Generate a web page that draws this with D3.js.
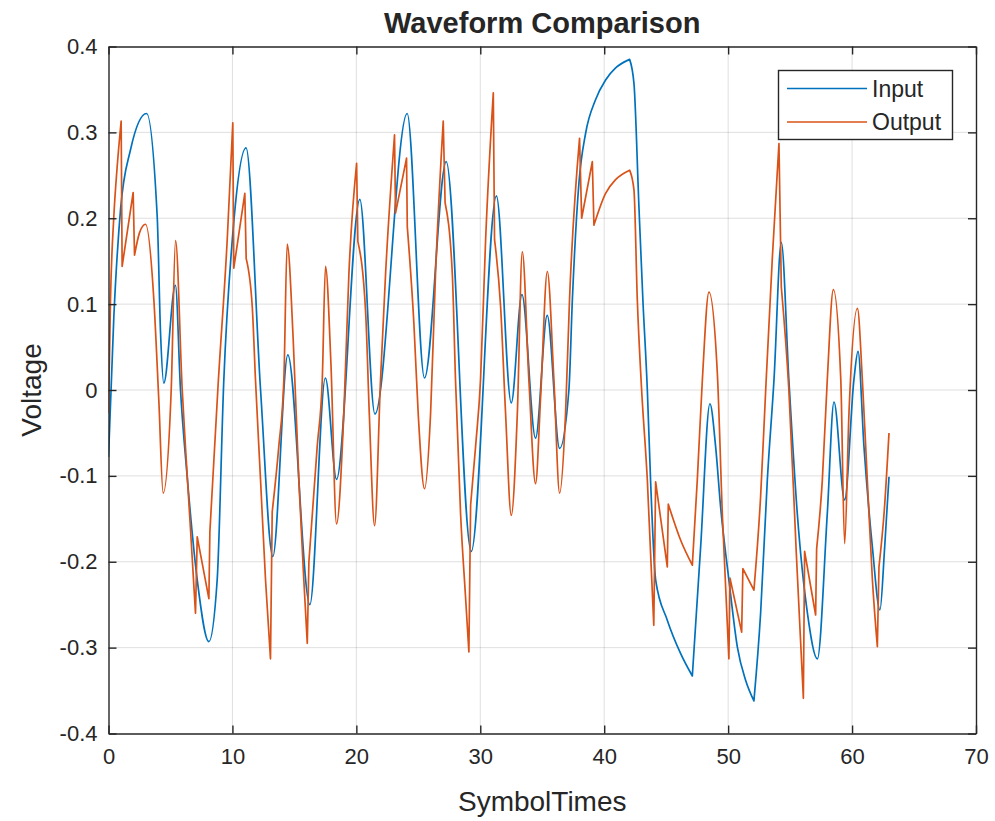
<!DOCTYPE html>
<html>
<head>
<meta charset="utf-8">
<script src="https://cdn.jsdelivr.net/npm/d3@7"></script>
<style>
  body { margin: 0; background: #ffffff; }
  text { font-family: "Liberation Sans", Arial, Helvetica, sans-serif; fill: #262626; }
</style>
</head>
<body>
<svg id="chart" width="995" height="821"></svg>
<script>
// Input waveform: [symbol time, voltage]
const inputWave = [
  [0,-0.078],[0.43,0.085],[0.97,0.21],[1.78,0.28],[3.07,0.322],[3.93,0.202],[4.2,0.066],[4.46,0.008],
  [5.4,0.122],[5.81,0.0],[6.35,-0.101],[7.16,-0.221],[8.1,-0.293],[8.77,-0.221],[9.3,0.01],[10.1,0.194],
  [11.1,0.282],[12.27,0.0],[13.26,-0.194],[14.47,0.041],[16.25,-0.25],[17.5,0.014],[18.4,-0.104],
  [20.28,0.222],[21.5,-0.028],[24.1,0.322],[25.5,0.014],[27.25,0.266],[29.27,-0.188],[31.3,0.226],
  [32.5,-0.015],[33.36,0.111],[34.46,-0.056],[35.4,0.087],[36.4,-0.068],[37.15,0.0],[37.43,0.105],
  [37.96,0.241],[38.5,0.299],[39.3,0.338],[40.11,0.361],[40.92,0.375],[42.05,0.385],[42.4,0.357],
  [42.8,0.214],[43.12,0.105],[43.48,0.0],[43.74,-0.105],[44.15,-0.221],[45.09,-0.268],[46.17,-0.307],
  [47.11,-0.333],[47.78,-0.183],[48.53,-0.016],[48.99,-0.066],[49.39,-0.136],[50.06,-0.221],
  [50.74,-0.299],[51.41,-0.338],[52.08,-0.362],[52.62,-0.26],[53.16,-0.105],[53.7,0.012],[54.29,0.172],
  [54.9,0.012],[55.58,-0.144],[56.4,-0.26],[57.2,-0.313],[58.0,-0.144],[58.54,-0.014],[59.4,-0.128],
  [60.15,0.012],[60.48,0.045],[60.96,-0.066],[61.64,-0.183],[62.25,-0.256],[62.63,-0.183],[62.98,-0.101]
];
// Times where the input trace turns sharply
const inputCorners = [42.05, 47.11, 52.08];

// Output waveform: [symbol time, voltage]
const outputWave = [
  [0,-0.027],[0.16,0.105],[0.43,0.202],[0.7,0.26],[1.02,0.313],[1.1,0.144],[1.99,0.23],[2.1,0.157],
  [2.5,0.183],[2.99,0.193],[3.66,0.105],[4.06,-0.012],[4.41,-0.12],[5.06,0.0],[5.41,0.174],[5.95,0.0],
  [6.21,-0.066],[6.62,-0.163],[7.02,-0.26],[7.16,-0.171],[8.1,-0.243],[8.18,-0.165],[8.84,0.005],
  [9.58,0.175],[10.03,0.311],[10.11,0.142],[11.0,0.229],[11.11,0.153],[11.6,0.097],[11.86,0.012],
  [12.27,-0.105],[12.67,-0.221],[13.07,-0.313],[13.21,-0.142],[13.74,-0.066],[14.15,0.012],[14.42,0.17],
  [14.9,0.06],[15.36,-0.105],[15.76,-0.221],[16.04,-0.295],[16.17,-0.2],[16.84,-0.066],[17.25,0.012],
  [17.51,0.144],[17.95,0.03],[18.4,-0.156],[18.99,-0.027],[19.4,0.136],[20.02,0.264],[20.12,0.173],
  [20.75,0.09],[21.05,-0.03],[21.47,-0.158],[21.95,0.012],[22.36,0.136],[23.08,0.297],[23.16,0.206],
  [24.05,0.27],[24.11,0.19],[24.64,0.078],[25.0,-0.03],[25.5,-0.115],[25.99,-0.027],[26.39,0.136],
  [27.01,0.313],[27.16,0.218],[27.74,0.136],[28.0,0.012],[28.41,-0.144],[28.81,-0.241],[29.08,-0.305],
  [29.22,-0.134],[29.62,-0.066],[30.02,0.012],[30.43,0.175],[31.05,0.346],[31.15,0.175],[31.64,0.097],
  [32.04,-0.027],[32.5,-0.146],[32.99,-0.027],[33.39,0.161],[33.92,0.012],[34.46,-0.109],[34.87,-0.008],
  [35.41,0.138],[35.94,0.012],[36.4,-0.12],[36.88,-0.027],[37.2,0.105],[38.01,0.293],[38.18,0.2],
  [39.04,0.266],[39.17,0.192],[40.11,0.229],[40.92,0.245],[42.05,0.256],[42.4,0.233],[42.67,0.105],
  [43.0,0.005],[43.48,-0.105],[44.0,-0.274],[44.15,-0.107],[45.09,-0.206],[45.17,-0.133],[46.17,-0.175],
  [47.11,-0.204],[47.51,-0.105],[47.92,0.012],[48.45,0.114],[49.13,0.019],[49.53,-0.144],[50.06,-0.313],
  [50.15,-0.219],[51.09,-0.282],[51.19,-0.208],[52.08,-0.233],[52.62,-0.124],[53.03,0.0],[53.57,0.155],
  [54.1,0.287],[54.29,0.12],[54.9,0.0],[55.5,-0.19],[56.07,-0.359],[56.17,-0.188],[57.06,-0.262],
  [57.14,-0.185],[57.6,-0.105],[58.0,0.012],[58.49,0.117],[59.09,0.012],[59.4,-0.179],[59.75,-0.027],
  [60.43,0.095],[60.83,0.012],[61.23,-0.105],[61.64,-0.221],[62.04,-0.299],[62.17,-0.206],[62.6,-0.14],
  [62.98,-0.05]
];
// Times where the output trace turns sharply or steps
const outputCorners = [
  1.02,1.1,1.99,2.1,7.02,7.16,8.1,8.18,10.03,10.11,11.0,11.11,13.07,13.21,16.04,16.17,20.02,20.12,
  23.08,23.16,24.05,24.11,27.01,27.16,29.08,29.22,31.05,31.15,38.01,38.18,39.04,39.17,42.05,44.0,44.15,
  45.09,45.17,47.11,50.06,50.15,51.09,51.19,52.08,54.1,54.29,56.07,56.17,57.06,57.14,62.04,62.17
];

const xTicks = [0, 10, 20, 30, 40, 50, 60, 70];
const yTicks = [-0.4, -0.3, -0.2, -0.1, 0, 0.1, 0.2, 0.3, 0.4];
const seriesNames = ["Input", "Output"];
const seriesColors = ["#0072BD", "#D95319"];

const plot = { left: 108.5, right: 976, top: 46.5, bottom: 733.5 };
const svg = d3.select("#chart");

const x = d3.scaleLinear().domain([0, 70]).range([plot.left, plot.right]);
const y = d3.scaleLinear().domain([-0.4, 0.4]).range([plot.bottom, plot.top]);

// grid
const grid = svg.append("g").attr("stroke", "#262626").attr("stroke-opacity", 0.15).attr("stroke-width", 1);
xTicks.slice(1, -1).forEach(t => grid.append("line")
  .attr("x1", x(t)).attr("x2", x(t)).attr("y1", plot.top).attr("y2", plot.bottom));
yTicks.slice(1, -1).forEach(t => grid.append("line")
  .attr("x1", plot.left).attr("x2", plot.right).attr("y1", y(t)).attr("y2", y(t)));

// piecewise-smooth path: monotone curve between corners, straight across steps
function tracePath(points, corners) {
  const idx = corners.map(c => points.findIndex(p => p[0] === c)).filter(i => i > 0);
  const cuts = [0, ...idx, points.length - 1].filter((v, i, a) => a.indexOf(v) === i).sort((a, b) => a - b);
  const line = d3.line().x(d => x(d[0])).y(d => y(d[1])).curve(d3.curveMonotoneX);
  let d = "";
  for (let k = 0; k < cuts.length - 1; k++) {
    const piece = line(points.slice(cuts[k], cuts[k + 1] + 1));
    d += k === 0 ? piece : piece.replace(/^M/, "L");
  }
  return d;
}

svg.append("clipPath").attr("id", "plotArea").append("rect")
  .attr("x", plot.left).attr("y", plot.top)
  .attr("width", plot.right - plot.left).attr("height", plot.bottom - plot.top);

const traces = svg.append("g").attr("clip-path", "url(#plotArea)");
traces.append("path").attr("d", tracePath(inputWave, inputCorners))
  .attr("fill", "none").attr("stroke", seriesColors[0]).attr("stroke-width", 1.7).attr("stroke-linejoin", "round");
traces.append("path").attr("d", tracePath(outputWave, outputCorners))
  .attr("fill", "none").attr("stroke", seriesColors[1]).attr("stroke-width", 1.7).attr("stroke-linejoin", "round");

// axes box with inward ticks on all sides
const tickLen = 8;
const axisColor = "#262626";
const fmtY = d => d === 0 ? "0" : d.toFixed(1);
const bottomAxis = svg.append("g").attr("transform", `translate(0,${plot.bottom})`)
  .call(d3.axisBottom(x).tickValues(xTicks).tickSizeInner(-tickLen).tickSizeOuter(0).tickPadding(15));
const topAxis = svg.append("g").attr("transform", `translate(0,${plot.top})`)
  .call(d3.axisTop(x).tickValues(xTicks).tickSizeInner(-tickLen).tickSizeOuter(0).tickFormat(""));
const leftAxis = svg.append("g").attr("transform", `translate(${plot.left},0)`)
  .call(d3.axisLeft(y).tickValues(yTicks).tickSizeInner(-tickLen).tickSizeOuter(0).tickPadding(11).tickFormat(fmtY));
const rightAxis = svg.append("g").attr("transform", `translate(${plot.right},0)`)
  .call(d3.axisRight(y).tickValues(yTicks).tickSizeInner(-tickLen).tickSizeOuter(0).tickFormat(""));

[bottomAxis, topAxis, leftAxis, rightAxis].forEach(g => {
  g.select(".domain").attr("stroke", axisColor).attr("stroke-width", 1.4);
  g.selectAll(".tick line").attr("stroke", axisColor).attr("stroke-width", 1.4);
  g.selectAll(".tick text").attr("fill", axisColor).style("font-size", "22px")
    .style("font-family", '"Liberation Sans", Arial, sans-serif');
});

// titles
svg.append("text").attr("x", (plot.left + plot.right) / 2).attr("y", 33)
  .attr("text-anchor", "middle").style("font-size", "29px").style("font-weight", "bold")
  .text("Waveform Comparison");
svg.append("text").attr("x", (plot.left + plot.right) / 2).attr("y", 811)
  .attr("text-anchor", "middle").style("font-size", "28px").text("SymbolTimes");
svg.append("text").attr("transform", `translate(41,${(plot.top + plot.bottom) / 2}) rotate(-90)`)
  .attr("text-anchor", "middle").style("font-size", "28px").text("Voltage");

// legend
const legend = svg.append("g");
legend.append("rect").attr("x", 778.5).attr("y", 70.5).attr("width", 174).attr("height", 69)
  .attr("fill", "#ffffff").attr("stroke", axisColor).attr("stroke-width", 1.4);
seriesNames.forEach((name, i) => {
  const ly = 88.5 + i * 33.5;
  legend.append("line").attr("x1", 787).attr("x2", 867).attr("y1", ly).attr("y2", ly)
    .attr("stroke", seriesColors[i]).attr("stroke-width", 1.7);
  legend.append("text").attr("x", 872).attr("y", ly).attr("dy", "0.35em")
    .style("font-size", "23px").text(name);
});
</script>
</body>
</html>
